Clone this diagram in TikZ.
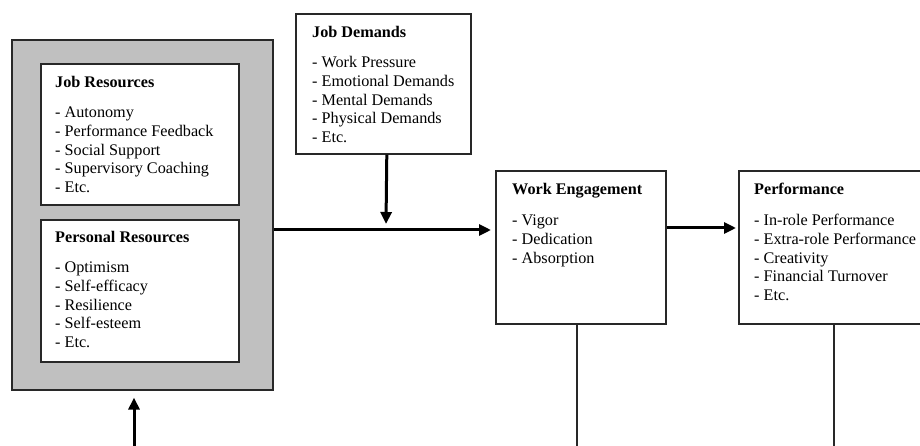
\documentclass[tikz,border=0pt]{standalone}
\usepackage{fontspec}
\setmainfont{Liberation Serif}
\usetikzlibrary{arrows.meta}
\definecolor{panelgray}{RGB}{192,192,192}
\definecolor{edge}{RGB}{40,40,40}
\begin{document}
\begin{tikzpicture}[x=1pt,y=-1pt,
  box/.style={draw=edge, line width=1.6pt, fill=white, inner sep=0pt, anchor=north west},
  txt/.style={anchor=north west, inner sep=0pt, align=left, font=\fontsize{16.2}{18.7}\selectfont},
  conn/.style={line width=3pt},
  arr/.style={conn, -{Triangle[length=12pt,width=11pt]}},
  thinline/.style={draw=edge, line width=2pt}]
\useasboundingbox (0,0) rectangle (920,446);
\clip (0,0) rectangle (920,446);
% boxes
\node[box, fill=panelgray, minimum width=261pt, minimum height=350pt] (outer) at (11,39) {};
\node[box, minimum width=198pt, minimum height=141pt] (jr) at (40,63) {};
\node[box, minimum width=198pt, minimum height=142pt] (pr) at (40,219) {};
\node[box, minimum width=175pt, minimum height=140pt] (jd) at (295,13) {};
\node[box, minimum width=170pt, minimum height=153pt] (we) at (495,170) {};
\node[box, minimum width=200pt, minimum height=153pt] (perf) at (738,170) {};
% texts
\node[txt] (jrt) at (55,76) {\textbf{Job Resources}\\[11.5pt]- Autonomy\\- Performance Feedback\\- Social Support\\- Supervisory Coaching\\- Etc.};
\node[txt] (prt) at (55,231) {\textbf{Personal Resources}\\[11.5pt]- Optimism\\- Self-efficacy\\- Resilience\\- Self-esteem\\- Etc.};
\node[txt] (jdt) at (312,26) {\textbf{Job Demands}\\[11.5pt]- Work Pressure\\- Emotional Demands\\- Mental Demands\\- Physical Demands\\- Etc.};
\node[txt] (wet) at (512,183) {\textbf{Work Engagement}\\[12.5pt]- Vigor\\- Dedication\\- Absorption};
\node[txt] (perft) at (754,183) {\textbf{Performance}\\[12.5pt]- In-role Performance\\- Extra-role Performance\\- Creativity\\- Financial Turnover\\- Etc.};
% connectors
\coordinate (jdtip) at (386,224);
\coordinate (upstart) at (134,450);
\draw[arr, shorten >=4pt] (outer.east |- 0,230) -- (we.west |- 0,230);
\draw[arr] ([xshift=3.5pt]jd.south) -- (jdtip);
\draw[arr, shorten >=2pt] (we.east |- 0,228) -- (perf.west |- 0,228);
\draw[arr, shorten >=7pt] (upstart) -- (upstart |- outer.south);
\draw[thinline] ([xshift=-4pt]we.south) -- ++(0,140);
\draw[thinline] ([xshift=-5pt]perf.south) -- ++(0,140);
\end{tikzpicture}
\end{document}
